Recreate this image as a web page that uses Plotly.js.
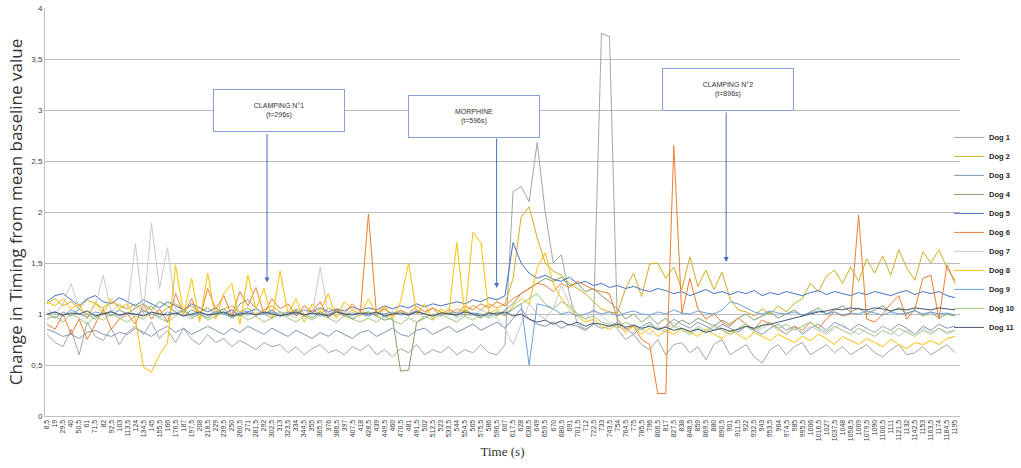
<!DOCTYPE html>
<html>
<head>
<meta charset="utf-8">
<script src="https://cdn.plot.ly/plotly-3.0.1.min.js"></script>
<style>html,body{margin:0;padding:0;background:#fff;}#chart{width:1021px;height:468px;}</style>
</head>
<body>
<div id="chart"></div>
<script>
// Tick labels (time, s) as printed on the category axis
const TIME_LABELS = ['8,5','19','29,5','40','50,5','61','71,5','82','92,5','103','113,5','124','134,5','145','155,5','166','176,5','187','197,5','208','218,5','229','239,5','250','260,5','271','281,5','292','302,5','313','323,5','334','344,5','355','365,5','376','386,5','397','407,5','418','428,5','439','449,5','460','470,5','481','491,5','502','512,5','523','533,5','544','554,5','565','575,5','586','596,5','607','617,5','628','638,5','649','659,5','670','680,5','691','701,5','712','722,5','733','743,5','754','764,5','775','785,5','796','806,5','817','827,5','838','848,5','859','869,5','880','890,5','901','911,5','922','932,5','943','953,5','964','974,5','985','995,5','1006','1016,5','1027','1037,5','1048','1058,5','1069','1079,5','1090','1100,5','1111','1121,5','1132','1142,5','1153','1163,5','1174','1184,5','1195'];

const DOG_NAMES = ['Dog 1','Dog 2','Dog 3','Dog 4','Dog 5','Dog 6','Dog 7','Dog 8','Dog 9','Dog 10','Dog 11'];
const DOG_COLORS = ['#a5a5a5','#cfae1f','#7f96b2','#7ea06a','#4472c4','#ed7d31','#c9c9c9','#ffc000','#6f9fd8','#9bc77f','#44546a'];

const DOG1 = [0.80,0.72,0.68,0.85,0.60,0.92,0.78,0.74,0.86,0.70,
0.82,0.88,0.80,0.92,0.76,0.84,0.72,0.86,0.75,0.70,
0.80,0.72,0.76,0.68,0.74,0.70,0.65,0.72,0.68,0.70,
0.62,0.68,0.60,0.66,0.70,0.62,0.65,0.60,0.68,0.64,
0.70,0.60,0.65,0.58,0.66,0.62,0.70,0.60,0.65,0.62,
0.68,0.60,0.65,0.62,0.70,0.62,0.60,0.70,2.20,2.25,
2.10,2.68,2.00,1.50,1.58,1.20,0.90,0.85,0.90,3.75,
3.72,0.85,0.75,0.80,0.70,0.65,0.75,0.60,0.70,0.72,
0.62,0.68,0.55,0.70,0.75,0.60,0.65,0.70,0.58,0.52,
0.65,0.70,0.60,0.68,0.72,0.60,0.65,0.70,0.62,0.68,
0.60,0.65,0.70,0.62,0.58,0.65,0.70,0.60,0.62,0.68,
0.60,0.65,0.70,0.62];

const DOG2 = [1.10,1.15,1.08,1.12,1.05,1.14,1.10,1.06,1.12,1.08,
1.05,1.10,1.02,1.08,1.00,1.06,1.10,1.04,1.08,1.02,
1.06,1.00,1.05,1.08,1.02,1.06,1.00,1.04,1.08,1.02,
1.00,1.05,0.98,1.04,1.00,1.06,1.02,0.98,1.04,1.00,
1.02,0.98,1.05,1.00,1.03,0.98,1.04,1.00,1.06,1.02,
1.00,1.05,1.02,1.08,1.04,1.10,1.06,1.10,1.35,1.95,
2.05,1.75,1.50,1.42,1.38,1.30,1.25,1.20,1.12,1.05,
1.02,1.01,1.25,1.40,1.17,1.49,1.50,1.35,1.46,1.24,
1.56,1.27,1.43,1.24,1.41,1.15,1.04,1.02,0.98,1.05,
1.00,1.08,1.02,1.10,1.15,1.30,1.22,1.37,1.43,1.30,
1.46,1.32,1.54,1.40,1.57,1.38,1.63,1.45,1.33,1.61,
1.50,1.63,1.45,1.33];

const DOG3 = [0.85,0.82,0.78,0.80,0.76,0.82,0.84,0.80,0.78,0.82,
0.80,0.86,0.82,0.78,0.84,0.88,0.82,0.86,0.80,0.84,
0.88,0.84,0.80,0.86,0.82,0.88,0.84,0.80,0.86,0.82,
0.78,0.84,0.80,0.76,0.82,0.78,0.84,0.80,0.76,0.82,
0.84,0.78,0.82,0.86,0.80,0.78,0.84,0.86,0.80,0.84,
0.88,0.82,0.86,0.90,0.84,0.88,0.92,0.86,0.95,1.05,
0.95,0.90,0.88,0.92,0.86,0.90,0.88,0.84,0.90,0.86,
0.88,0.92,0.86,0.80,0.88,0.92,0.84,0.88,0.95,0.90,
0.86,0.92,0.88,0.84,0.90,0.86,0.82,0.88,0.84,0.80,
0.86,0.90,0.84,0.88,0.80,0.86,0.90,0.84,0.92,0.88,
0.84,0.90,0.86,0.82,0.88,0.84,0.90,0.86,0.80,0.88,
0.84,0.90,0.86,0.88];

const DOG4 = [1.00,0.96,1.02,0.98,1.05,1.00,0.95,1.02,0.98,1.04,
1.00,1.06,1.10,1.04,1.12,1.08,1.02,0.98,1.04,1.00,
0.96,1.02,1.05,0.98,1.10,1.14,1.06,1.00,0.96,1.02,
0.98,1.04,1.00,0.96,1.02,0.98,1.04,1.00,0.95,1.00,
1.02,0.98,0.94,0.96,0.44,0.45,0.92,0.96,1.00,0.98,
1.02,0.98,1.04,1.00,0.96,1.02,0.98,1.04,1.10,1.20,
1.25,1.30,1.35,1.32,1.36,1.28,1.30,1.22,1.25,1.18,
1.12,1.05,0.95,1.00,0.92,0.98,0.90,0.96,0.88,0.94,
0.90,0.96,0.92,0.88,0.94,0.90,0.96,1.00,0.94,0.98,
1.02,0.96,1.00,1.04,0.98,1.02,1.06,1.00,1.04,1.08,
1.02,1.06,1.00,1.04,1.08,1.02,1.06,1.00,1.04,0.98,
1.02,0.96,1.00,0.98];

const DOG5 = [1.12,1.18,1.20,1.14,1.08,1.15,1.18,1.12,1.10,1.16,
1.12,1.08,1.14,1.10,1.06,1.12,1.08,1.04,1.10,1.06,
1.02,1.06,1.00,1.04,0.98,1.02,1.05,1.00,1.04,0.98,
1.02,1.00,1.04,1.02,1.06,1.02,1.05,1.03,1.07,1.04,
1.06,1.04,1.08,1.05,1.08,1.06,1.10,1.07,1.10,1.08,
1.10,1.12,1.10,1.14,1.12,1.16,1.14,1.18,1.70,1.50,
1.40,1.35,1.38,1.34,1.32,1.36,1.30,1.32,1.28,1.30,
1.26,1.28,1.25,1.27,1.24,1.22,1.25,1.23,1.20,1.22,
1.18,1.21,1.24,1.20,1.22,1.19,1.22,1.20,1.23,1.18,
1.21,1.19,1.22,1.20,1.18,1.21,1.23,1.19,1.22,1.20,
1.18,1.21,1.19,1.22,1.20,1.18,1.21,1.23,1.19,1.22,
1.20,1.22,1.18,1.16];

const DOG6 = [0.90,0.85,1.00,0.80,0.95,0.75,0.90,1.05,0.85,0.95,
1.00,0.90,1.10,0.95,1.05,0.92,1.20,1.00,1.15,0.95,
1.25,1.05,1.18,0.98,1.22,1.08,1.26,1.00,1.15,1.05,
1.10,0.98,1.08,1.02,1.12,0.96,1.05,1.00,1.10,1.02,
1.98,1.00,1.06,0.98,1.04,1.00,1.08,1.02,1.06,0.98,
1.05,1.00,1.08,1.04,1.10,1.06,1.12,1.08,1.15,1.20,
1.25,1.30,1.28,1.22,1.30,1.26,1.32,1.28,1.24,1.22,
1.20,0.95,0.85,0.88,0.75,0.70,0.22,0.22,2.65,1.00,
1.35,1.05,0.95,1.00,0.92,0.88,0.96,0.90,0.85,0.94,
0.90,0.86,0.80,0.88,0.84,0.92,0.86,0.95,1.02,0.98,
1.00,1.97,0.95,0.92,1.00,1.10,1.18,0.95,1.05,1.35,
1.38,0.95,1.48,1.30];

const DOG7 = [1.05,1.00,1.10,1.30,1.05,1.00,1.08,1.38,1.02,1.10,
1.05,1.69,1.00,1.89,1.25,1.65,1.05,1.00,0.95,1.02,
0.98,1.04,1.00,0.96,1.02,0.98,1.05,1.00,0.96,1.02,
1.00,0.96,1.04,1.00,1.46,1.00,0.98,1.02,0.96,1.00,
0.98,1.02,0.96,1.00,1.04,0.98,1.02,0.96,1.00,0.98,
1.02,0.96,1.00,0.98,1.04,1.00,0.96,0.85,0.70,0.90,
1.10,1.00,0.95,1.05,1.28,1.10,1.00,0.95,1.05,0.98,
0.92,0.88,0.84,0.90,0.86,0.80,0.88,0.84,0.92,0.86,
0.82,0.88,0.84,0.90,0.86,0.80,0.84,0.88,0.82,0.86,
0.90,0.84,0.80,0.86,0.82,0.88,0.84,0.80,0.86,0.90,
0.84,0.80,0.86,0.82,0.88,0.84,0.78,0.84,0.80,0.86,
0.82,0.86,0.80,0.84];

const DOG8 = [1.12,1.08,1.15,1.05,1.10,0.95,1.12,1.00,1.15,1.05,
1.10,0.95,0.48,0.43,0.60,0.72,1.48,1.00,1.35,0.92,
1.40,0.95,1.20,1.30,0.90,1.38,1.05,1.25,0.95,1.42,
1.00,1.15,0.92,1.10,1.02,1.20,0.96,1.12,1.05,0.98,
1.15,1.00,1.08,0.95,1.12,1.50,1.00,1.10,0.95,1.05,
1.00,1.70,0.98,1.80,1.70,1.00,1.05,0.98,1.08,1.15,
1.10,1.45,1.60,1.30,1.15,1.05,0.98,0.92,0.95,0.88,
0.85,0.90,0.82,0.88,0.80,0.86,0.78,0.84,0.80,0.86,
0.82,0.78,0.85,0.80,0.76,0.84,0.80,0.75,0.82,0.78,
0.74,0.80,0.76,0.72,0.78,0.74,0.80,0.76,0.70,0.78,
0.74,0.70,0.76,0.72,0.68,0.75,0.70,0.66,0.72,0.70,
0.74,0.70,0.76,0.78];

const DOG9 = [1.00,1.02,0.98,1.04,1.00,0.97,1.02,1.00,1.03,0.98,
1.01,0.99,1.03,1.00,0.97,1.02,1.00,1.04,0.98,1.01,
0.99,1.02,1.00,0.97,1.01,1.03,0.99,1.00,1.02,0.98,
1.00,1.02,0.99,1.01,0.98,1.00,1.03,0.99,1.01,1.00,
0.98,1.01,1.00,1.02,0.99,1.00,1.03,1.00,0.98,1.01,
1.00,1.02,0.99,1.01,1.00,0.98,1.02,1.00,1.05,1.10,
0.50,1.10,1.08,1.05,1.00,1.02,0.98,1.00,1.03,1.00,
1.02,0.98,1.01,1.03,1.00,0.99,1.02,1.00,1.04,1.01,
1.00,1.03,1.01,1.00,1.04,1.12,1.10,1.06,1.02,1.00,
1.03,1.01,1.00,1.02,0.99,1.01,1.03,1.00,1.02,0.99,
1.01,1.00,1.03,1.01,0.99,1.02,1.00,1.01,1.03,1.00,
1.02,1.00,1.01,0.99];

const DOG10 = [0.95,0.98,0.92,1.00,0.96,0.90,0.98,0.94,1.00,0.96,
0.92,0.98,0.95,1.02,0.96,0.92,0.98,1.04,0.96,1.00,
0.94,0.98,1.02,0.96,1.00,0.94,0.98,0.92,0.96,1.00,
0.96,0.92,0.98,0.94,1.00,0.96,0.92,0.98,0.95,0.92,
0.96,0.92,0.98,0.94,0.90,0.96,0.92,0.98,0.94,1.00,
0.96,0.92,0.98,0.94,1.00,0.96,1.02,0.98,1.05,1.10,
1.15,1.20,1.10,1.05,1.12,1.08,1.00,0.95,0.98,0.92,
0.90,0.86,0.92,0.88,0.84,0.90,0.86,0.82,0.88,0.84,
0.80,0.86,0.82,0.88,0.84,0.80,0.86,0.90,0.84,0.88,
0.92,0.86,0.90,0.84,0.88,0.92,0.86,0.82,0.88,0.84,
0.80,0.86,0.82,0.78,0.84,0.80,0.86,0.82,0.78,0.84,
0.80,0.86,0.82,0.84];

const DOG11 = [1.00,1.02,0.99,1.01,1.00,1.03,0.98,1.00,1.02,0.99,
1.01,1.00,0.98,1.02,1.00,0.99,1.01,0.98,1.00,1.02,
0.99,1.00,1.02,0.98,1.00,1.01,0.99,1.02,1.00,0.98,
1.00,1.02,0.99,1.01,1.00,0.98,1.02,1.00,0.99,1.01,
1.00,1.02,0.98,1.00,1.01,0.99,1.02,1.00,0.98,1.01,
1.00,0.99,1.02,1.00,0.98,1.01,1.00,1.02,0.98,1.00,
0.95,0.92,0.94,0.90,0.93,0.89,0.92,0.88,0.91,0.90,
0.88,0.90,0.87,0.89,0.86,0.88,0.85,0.87,0.84,0.86,
0.83,0.85,0.82,0.84,0.86,0.83,0.85,0.88,0.86,0.89,
0.90,0.92,0.94,0.96,0.98,1.00,1.02,1.03,1.05,1.04,
1.06,1.05,1.04,1.06,1.05,1.03,1.05,1.04,1.06,1.05,
1.04,1.06,1.05,1.04];

// Events (time in s)
const EVENT_TEXT = ['CLAMPING N°1<br>(t=296s)', 'MORPHINE<br>(t=596s)', 'CLAMPING N°2<br>(t=896s)'];
const EVENT_T = [296, 596, 896];

const SERIES = [DOG1,DOG2,DOG3,DOG4,DOG5,DOG6,DOG7,DOG8,DOG9,DOG10,DOG11];
const TIMES = TIME_LABELS.map(s => parseFloat(s.replace(',', '.')));

const traces = SERIES.map((vals, k) => ({
  type: 'scatter', mode: 'lines', name: DOG_NAMES[k],
  x: TIMES, y: vals,
  line: {color: DOG_COLORS[k], width: 1}
}));

// annotation boxes and arrows
const boxPos = [
  {x: 311.7, y: 2.995},
  {x: 566.4, y: 2.94},
  {x: 897.7, y: 3.20}
];
const arrowTip = [1.31, 1.255, 1.51];
const arrowLen = [-150, -151, -151];
const annotations = [];
EVENT_TEXT.forEach((txt, k) => {
  annotations.push({
    xref: 'x', yref: 'y', x: EVENT_T[k], y: arrowTip[k],
    ax: 0, ay: arrowLen[k], axref: 'pixel', ayref: 'pixel',
    text: '', showarrow: true, arrowhead: 2, arrowsize: 1, arrowwidth: 1,
    arrowcolor: '#4a6fc0', standoff: 0, startstandoff: 0
  });
  annotations.push({
    xref: 'x', yref: 'y', x: boxPos[k].x, y: boxPos[k].y,
    text: txt, showarrow: false, width: 130, height: 41,
    bgcolor: '#ffffff', bordercolor: '#8a9fd6', borderwidth: 1, borderpad: 0,
    font: {family: 'Liberation Sans, Arial, sans-serif', size: 7, color: '#333333'},
    align: 'center', valign: 'middle'
  });
});

const layout = {
  width: 1021, height: 468,
  margin: {l: 45, r: 61, t: 8, b: 52, autoexpand: false},
  paper_bgcolor: '#ffffff', plot_bgcolor: '#ffffff',
  separators: ', ',
  showlegend: true,
  legend: {
    x: 0.988, xanchor: 'left', y: 0.45, yanchor: 'middle',
    font: {family: 'Liberation Sans, Arial, sans-serif', size: 7.5, color: '#262626', weight: 'bold'},
    bgcolor: 'rgba(0,0,0,0)', itemwidth: 30, tracegroupgap: 0
  },
  xaxis: {
    type: 'linear', range: [5.89, 1201.5],
    tickmode: 'array', tickvals: TIMES, ticktext: TIME_LABELS,
    tickangle: -90, ticks: '', showgrid: false, zeroline: false,
    showline: true, linecolor: '#bfbfbf', linewidth: 1,
    tickfont: {family: 'Liberation Sans, Arial, sans-serif', size: 7, color: '#404040'},
    title: {text: 'Time (s)', font: {family: 'Liberation Serif, Times New Roman, serif', size: 13, color: '#333333'}, standoff: 6}
  },
  yaxis: {
    range: [0, 4], tickmode: 'linear', tick0: 0, dtick: 0.5,
    ticks: '', showgrid: true, gridcolor: '#bdbdbd', gridwidth: 1,
    zeroline: false, showline: true, linecolor: '#bfbfbf', linewidth: 1,
    tickfont: {family: 'Liberation Sans, Arial, sans-serif', size: 8, color: '#404040'},
    title: {text: 'Change in Timing from mean baseline value', font: {family: 'Open Sans, sans-serif', size: 17, color: '#333333'}, standoff: 4}
  },
  annotations: annotations
};

Plotly.newPlot('chart', traces, layout, {displayModeBar: false, staticPlot: true});
</script>
</body>
</html>
